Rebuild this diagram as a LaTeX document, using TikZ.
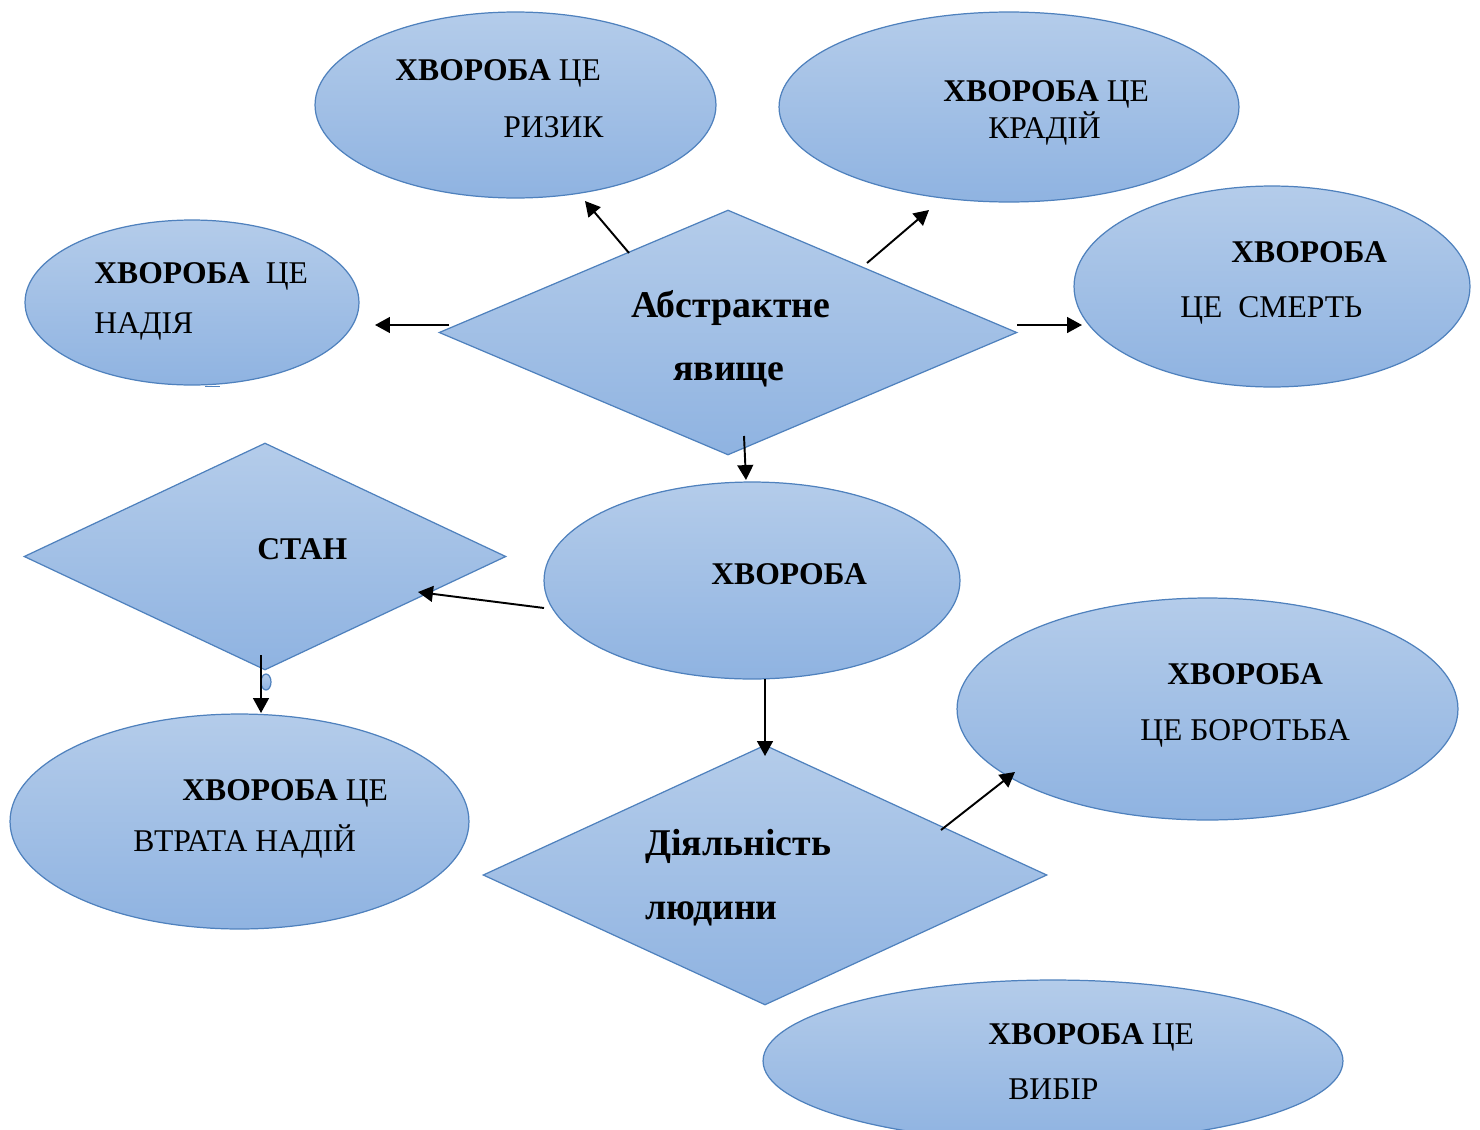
\documentclass[tikz,border=0pt]{standalone}
\usepackage{fontspec}
\setmainfont{Liberation Serif}
\usetikzlibrary{shapes.geometric,arrows.meta}

\definecolor{topblue}{HTML}{B4CCEA}
\definecolor{botblue}{HTML}{8FB3E1}
\definecolor{edgeblue}{HTML}{4F81BD}

\tikzset{
  oval/.style={ellipse, draw=edgeblue, line width=0.7pt, top color=topblue, bottom color=botblue, inner sep=0pt},
  rhomb/.style={diamond, draw=edgeblue, line width=0.7pt, top color=topblue, bottom color=botblue, inner sep=0pt},
  lbl/.style={anchor=base west, inner sep=0pt, font=\fontsize{18}{21}\selectfont},
  biglbl/.style={anchor=base west, inner sep=0pt, font=\fontsize{21.5}{26}\selectfont\bfseries},
  link/.style={line width=1.1pt, -{Triangle[length=8.5pt,width=9pt]}}
}

\begin{document}
\begin{tikzpicture}[x=0.02cm, y=-0.02cm]
\useasboundingbox (0,0) rectangle (1480,1129);

% shapes
\node[oval, minimum width=8.02cm, minimum height=3.72cm] (risk) at (515.5,105) {};
\node[oval, minimum width=9.2cm, minimum height=3.8cm] (thief) at (1009,107) {};
\node[oval, minimum width=6.68cm, minimum height=3.3cm] (hope) at (192,302.5) {};
\node[rhomb, minimum width=11.56cm, minimum height=4.9cm] (abstr) at (728,332.5) {};
\node[oval, minimum width=7.92cm, minimum height=4.02cm] (death) at (1272,286.5) {};
\node[rhomb, minimum width=9.64cm, minimum height=4.54cm] (state) at (265,556.5) {};
\node[oval, minimum width=8.32cm, minimum height=3.94cm] (ill) at (752,580.5) {};
\node[oval, minimum width=10.02cm, minimum height=4.44cm] (fight) at (1207.5,709) {};
\node[oval, minimum width=9.18cm, minimum height=4.3cm] (loss) at (239.5,821.5) {};
\node[rhomb, minimum width=11.28cm, minimum height=5.2cm] (act) at (765,875) {};
\node[oval, minimum width=11.6cm, minimum height=3.24cm] (choice) at (1053,1061) {};

% small stray marks
\node[oval, minimum width=0.2cm, minimum height=0.32cm] (dot) at (266,682) {};
\draw[edgeblue, line width=1pt] (205,386.5) coordinate (dashA) -- (220,386.5) coordinate (dashB);

% labels
\node[lbl] (riskA) at (395,80) {\textbf{ХВОРОБА} ЦЕ};
\node[lbl] (riskB) at (503,137) {РИЗИК};
\node[lbl] (thiefA) at (943,101) {\textbf{ХВОРОБА} ЦЕ};
\node[lbl] (thiefB) at (988,138) {КРАДІЙ};
\node[lbl] (hopeA) at (94,283) {\textbf{ХВОРОБА}\ \ ЦЕ};
\node[lbl] (hopeB) at (94,333) {НАДІЯ};
\node[biglbl] (abstrA) at (631,317) {Абстрактне};
\node[biglbl] (abstrB) at (673,380) {явище};
\node[lbl] (deathA) at (1231,262) {\textbf{ХВОРОБА}};
\node[lbl] (deathB) at (1180,317) {ЦЕ\ \ СМЕРТЬ};
\node[lbl] (stateA) at (257,559) {\textbf{СТАН}};
\node[lbl] (illA) at (711,584) {\textbf{ХВОРОБА}};
\node[lbl] (fightA) at (1167,684) {\textbf{ХВОРОБА}};
\node[lbl] (fightB) at (1140,740) {ЦЕ БОРОТЬБА};
\node[lbl] (lossA) at (182,800) {\textbf{ХВОРОБА} ЦЕ};
\node[lbl] (lossB) at (133,851) {ВТРАТА НАДІЙ};
\node[biglbl] (actA) at (645,855) {Діяльність};
\node[biglbl] (actB) at (645,919) {людини};
\node[lbl] (choiceA) at (988,1044) {\textbf{ХВОРОБА} ЦЕ};
\node[lbl] (choiceB) at (1008,1099) {ВИБІР};

% connector ends
\coordinate (a1s) at (629,253); \coordinate (a1e) at (585,201);
\coordinate (a2s) at (867,263); \coordinate (a2e) at (929,210);
\coordinate (a3s) at (449,325); \coordinate (a3e) at (375,325);
\coordinate (a4s) at (1017,325); \coordinate (a4e) at (1082,325);
\coordinate (a5s) at (744,436); \coordinate (a5e) at (746,480);
\coordinate (a6s) at (544,608); \coordinate (a6e) at (418,592);
\coordinate (a7s) at (261,655); \coordinate (a7e) at (261,713);
\coordinate (a8s) at (765,679); \coordinate (a8e) at (765,756);
\coordinate (a9s) at (941,830); \coordinate (a9e) at (1015,772);

% connectors
\draw[link] (a1s) -- (a1e);
\draw[link] (a2s) -- (a2e);
\draw[link] (a3s) -- (a3e);
\draw[link] (a4s) -- (a4e);
\draw[link] (a5s) -- (a5e);
\draw[link] (a6s) -- (a6e);
\draw[link] (a7s) -- (a7e);
\draw[link] (a8s) -- (a8e);
\draw[link] (a9s) -- (a9e);
\end{tikzpicture}
\end{document}
